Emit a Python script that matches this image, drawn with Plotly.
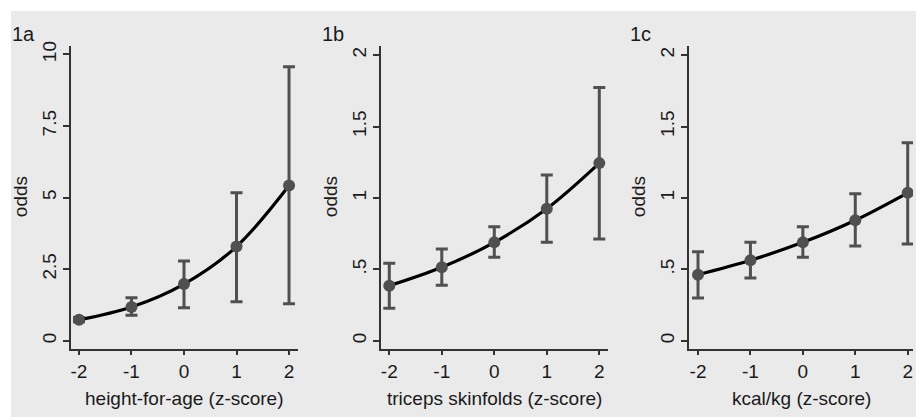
import plotly.graph_objects as go

W, H = 916, 419

z = [-2, -1, 0, 1, 2]

odds_a = [0.73, 1.18, 1.98, 3.29, 5.42]
lo_a = [0.66, 0.89, 1.15, 1.36, 1.29]
hi_a = [0.81, 1.50, 2.79, 5.17, 9.57]

odds_b = [0.386, 0.515, 0.689, 0.925, 1.244]
lo_b = [0.227, 0.388, 0.585, 0.689, 0.712]
hi_b = [0.543, 0.643, 0.798, 1.161, 1.774]

odds_c = [0.463, 0.564, 0.689, 0.844, 1.036]
lo_c = [0.300, 0.439, 0.585, 0.664, 0.678]
hi_c = [0.624, 0.689, 0.798, 1.029, 1.387]

panel_labels = ["1a", "1b", "1c"]
x_titles = ["height-for-age (z-score)", "triceps skinfolds (z-score)", "kcal/kg (z-score)"]
y_title = "odds"
ytick_vals_a = [0, 2.5, 5, 7.5, 10]
ytick_text_a = ["0", "2.5", "5", "7.5", "10"]
ytick_vals_bc = [0, 0.5, 1, 1.5, 2]
ytick_text_bc = ["0", ".5", "1", "1.5", "2"]
xtick_vals = [-2, -1, 0, 1, 2]
xtick_text = ["-2", "-1", "0", "1", "2"]

FONT = "Liberation Sans, Arial, Helvetica, sans-serif"
TXT = "#1a1a1a"
BAR = "#505050"
AX = "#333333"
FS = 19

panels_px = [(71, 298), (381, 608), (689, 913)]
top_px, bot_px = 42, 348
xranges = [[-2.152, 2.171], [-2.158, 2.166], [-2.172, 2.101]]
yranges = [[-0.277, 10.31], [-0.0555, 2.067], [-0.0555, 2.067]]

series = [(odds_a, lo_a, hi_a), (odds_b, lo_b, hi_b), (odds_c, lo_c, hi_c)]

fig = go.Figure()

for i, (od, lo, hi) in enumerate(series):
    xa = "x" if i == 0 else f"x{i+1}"
    ya = "y" if i == 0 else f"y{i+1}"
    fig.add_trace(go.Scatter(
        x=z, y=od, xaxis=xa, yaxis=ya,
        mode="lines+markers",
        line=dict(color="black", width=3.2, shape="spline", smoothing=1.0),
        marker=dict(color=BAR, size=12),
        error_y=dict(type="data", symmetric=False,
                     array=[h - o for h, o in zip(hi, od)],
                     arrayminus=[o - l for o, l in zip(od, lo)],
                     color=BAR, thickness=3, width=6),
        showlegend=False, hoverinfo="skip",
    ))

layout = dict(
    width=W, height=H,
    margin=dict(l=0, r=0, t=0, b=0),
    paper_bgcolor="white",
    plot_bgcolor="white",
    font=dict(family=FONT, size=FS, color=TXT),
    shapes=[dict(type="rect", xref="paper", yref="paper", layer="below",
                 x0=11 / W, x1=1.0, y0=1 - 417 / H, y1=1 - 7 / H,
                 fillcolor="#eaeaea", line=dict(width=0))],
    annotations=[],
)

for i in range(3):
    l, r = panels_px[i]
    xk = "xaxis" if i == 0 else f"xaxis{i+1}"
    yk = "yaxis" if i == 0 else f"yaxis{i+1}"
    ya = "y" if i == 0 else f"y{i+1}"
    xa = "x" if i == 0 else f"x{i+1}"
    layout[xk] = dict(
        domain=[l / W, r / W], range=xranges[i], anchor=ya,
        tickmode="array", tickvals=xtick_vals, ticktext=xtick_text,
        ticks="outside", ticklen=5, tickwidth=1.5, tickcolor=AX,
        showline=True, linecolor=AX, linewidth=1.5, mirror=False,
        showgrid=False, zeroline=False, fixedrange=True,
        tickfont=dict(size=FS, color=TXT, family=FONT),
    )
    tv = ytick_vals_a if i == 0 else ytick_vals_bc
    tt = ytick_text_a if i == 0 else ytick_text_bc
    layout[yk] = dict(
        domain=[1 - bot_px / H, 1 - top_px / H], range=yranges[i], anchor=xa,
        tickmode="array", tickvals=tv, ticktext=tt, tickangle=-90,
        ticks="outside", ticklen=6, tickwidth=1.5, tickcolor=AX,
        showline=True, linecolor=AX, linewidth=1.5, mirror=False,
        showgrid=False, zeroline=False, fixedrange=True,
        tickfont=dict(size=FS, color=TXT, family=FONT),
    )
    layout["annotations"].append(dict(
        text=x_titles[i], xref="paper", yref="paper",
        x=(l + r) / 2 / W, y=1 - 398 / H, xanchor="center", yanchor="middle",
        showarrow=False, font=dict(size=FS, color=TXT, family=FONT)))
    layout["annotations"].append(dict(
        text=y_title, xref="paper", yref="paper", textangle=-90,
        x=(l - 51) / W, y=1 - 195 / H, xanchor="center", yanchor="middle",
        showarrow=False, font=dict(size=FS, color=TXT, family=FONT)))
    layout["annotations"].append(dict(
        text=panel_labels[i], xref="paper", yref="paper",
        x=(l - 61) / W, y=1 - 30 / H, xanchor="left", yanchor="middle",
        showarrow=False, font=dict(size=20, color=TXT, family=FONT)))

fig.update_layout(**layout)
fig.write_html("out.html")
